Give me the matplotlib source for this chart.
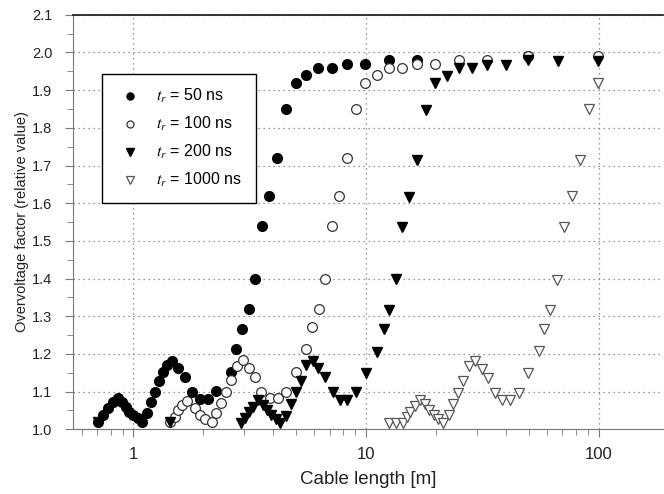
import numpy as np
import matplotlib
matplotlib.use("Agg")
import matplotlib.pyplot as plt
from matplotlib.ticker import FixedLocator, FuncFormatter, MultipleLocator

plt.rcParams['font.family'] = ['Liberation Sans', 'DejaVu Sans']
plt.rcParams['mathtext.fontset'] = 'stix'

# ---- data ----
x_50 = [0.706, 0.742, 0.779, 0.819, 0.860, 0.895, 0.926, 0.959, 0.998, 1.049, 1.084,
        1.14, 1.186, 1.237, 1.29, 1.34, 1.39, 1.468, 1.558, 1.664, 1.79, 1.93, 2.10,
        2.27, 2.62, 2.77, 2.93, 3.13, 3.33, 3.58, 3.82, 4.15, 4.55, 4.99, 5.54, 6.23,
        7.14, 8.32, 9.95, 12.5, 16.5, 49.7]
y_50 = [1.02, 1.038, 1.056, 1.072, 1.082, 1.073, 1.06, 1.047, 1.038, 1.029, 1.02,
        1.042, 1.072, 1.10, 1.129, 1.153, 1.17, 1.18, 1.162, 1.14, 1.10, 1.08, 1.08,
        1.102, 1.153, 1.212, 1.267, 1.32, 1.40, 1.54, 1.62, 1.72, 1.85, 1.92, 1.94, 1.96,
        1.96, 1.97, 1.97, 1.98, 1.98, 1.99]

x_100 = [1.435, 1.51, 1.56, 1.61, 1.70, 1.84, 1.93, 2.04, 2.17, 2.26, 2.39, 2.49,
         2.62, 2.78, 2.95, 3.13, 3.33, 3.55, 3.86, 4.19, 4.55, 4.99, 5.54, 5.87, 6.27,
         6.66, 7.14, 7.67, 8.32, 9.05, 9.95, 11.1, 12.5, 14.3, 16.5, 19.9, 25.2, 33.3,
         49.7, 99.6]
y_100 = [1.02, 1.033, 1.05, 1.065, 1.076, 1.056, 1.038, 1.027, 1.02, 1.042, 1.07, 1.10,
         1.13, 1.168, 1.184, 1.162, 1.14, 1.10, 1.082, 1.082, 1.10, 1.153, 1.212, 1.272,
         1.32, 1.40, 1.54, 1.62, 1.72, 1.85, 1.92, 1.94, 1.96, 1.96, 1.97, 1.97, 1.98,
         1.98, 1.99, 1.99]

x_200 = [0.706, 1.435, 2.89, 3.01, 3.14, 3.27, 3.44, 3.61, 3.76, 3.92, 4.09, 4.29,
         4.52, 4.75, 4.99, 5.25, 5.54, 5.89, 6.23, 6.66, 7.23, 7.72, 8.25, 9.05, 10.0,
         11.2, 11.9, 12.5, 13.4, 14.3, 15.3, 16.6, 18.2, 19.9, 22.2, 25.1, 28.6, 33.3,
         40.2, 49.7, 66.8, 99.6]
y_200 = [1.02, 1.02, 1.016, 1.029, 1.047, 1.06, 1.078, 1.064, 1.051, 1.038, 1.027,
         1.018, 1.035, 1.067, 1.10, 1.128, 1.17, 1.18, 1.162, 1.14, 1.10, 1.078, 1.078,
         1.10, 1.149, 1.206, 1.265, 1.316, 1.398, 1.536, 1.617, 1.716, 1.847, 1.918,
         1.937, 1.958, 1.958, 1.966, 1.968, 1.98, 1.978, 1.978]

x_1000 = [12.5, 13.4, 14.5, 15.0, 15.4, 16.2, 17.0, 17.9, 18.7, 19.6, 20.4, 21.5, 22.8,
          23.7, 24.9, 26.2, 27.8, 29.4, 31.4, 33.5, 35.8, 38.6, 41.7, 45.4, 49.7, 55.3,
          58.5, 62.0, 66.3, 71.4, 76.9, 83.0, 91.0, 99.6]
y_1000 = [1.018, 1.018, 1.018, 1.032, 1.047, 1.062, 1.078, 1.067, 1.051, 1.038, 1.027,
          1.018, 1.038, 1.067, 1.095, 1.129, 1.168, 1.18, 1.159, 1.135, 1.097, 1.078,
          1.078, 1.097, 1.149, 1.208, 1.265, 1.316, 1.396, 1.537, 1.619, 1.716, 1.849,
          1.918]

fig = plt.figure(figsize=(6.64, 4.94), dpi=100)
ax = fig.add_axes([0.110, 0.131, 0.889, 0.839])

ax.plot(x_50, y_50, 'o', ls='none', ms=7, mfc='black', mec='black',
        label=r'$t_r$ = 50 ns')
ax.plot(x_100, y_100, 'o', ls='none', ms=7, mfc='white', mec='#333333', mew=0.9,
        label=r'$t_r$ = 100 ns')
ax.plot(x_200, y_200, 'v', ls='none', ms=7.5, mfc='black', mec='black',
        label=r'$t_r$ = 200 ns')
ax.plot(x_1000, y_1000, 'v', ls='none', ms=7.5, mfc='white', mec='#555555', mew=0.9,
        label=r'$t_r$ = 1000 ns')

ax.set_xscale('log')
ax.set_xlim(0.55, 190)
ax.set_ylim(1.0, 2.1)

ax.xaxis.set_major_locator(FixedLocator([1, 10, 100]))
ax.xaxis.set_major_formatter(FuncFormatter(lambda v, p: '%g' % v))
ax.yaxis.set_major_locator(MultipleLocator(0.1))
ax.yaxis.set_minor_locator(MultipleLocator(0.05))
ax.yaxis.set_major_formatter(FuncFormatter(lambda v, p: '%.1f' % v))

ax.grid(True, which='major', ls=(0, (1, 3)), color='#777777', lw=0.9)
ax.tick_params(which='both', direction='out', colors='#777777', labelcolor='#222222')
ax.tick_params(which='major', length=6)
ax.tick_params(which='minor', length=4)
ax.tick_params(axis='x', which='major', pad=7, labelsize=12)
ax.tick_params(axis='y', which='major', pad=9, labelsize=10.5)

for s in ['left', 'bottom']:
    ax.spines[s].set_color('#777777')
ax.spines['top'].set_color('#222222')
ax.spines['top'].set_linewidth(1.3)
ax.spines['right'].set_visible(False)

ax.set_xlabel('Cable length [m]', fontsize=13.5, color='#222222', labelpad=6)
ax.set_ylabel('Overvoltage factor (relative value)', fontsize=10.5, color='#222222',
              labelpad=2)

leg = ax.legend(loc='upper left', bbox_to_anchor=(0.049, 0.858), fontsize=11.5,
                markerscale=0.72, fancybox=False, edgecolor='black', framealpha=1,
                borderpad=0.85, labelspacing=0.62, handletextpad=0.75,
                borderaxespad=0, handlelength=1.8)
leg.get_frame().set_linewidth(1.0)

fig.savefig('out.png', dpi=100)
